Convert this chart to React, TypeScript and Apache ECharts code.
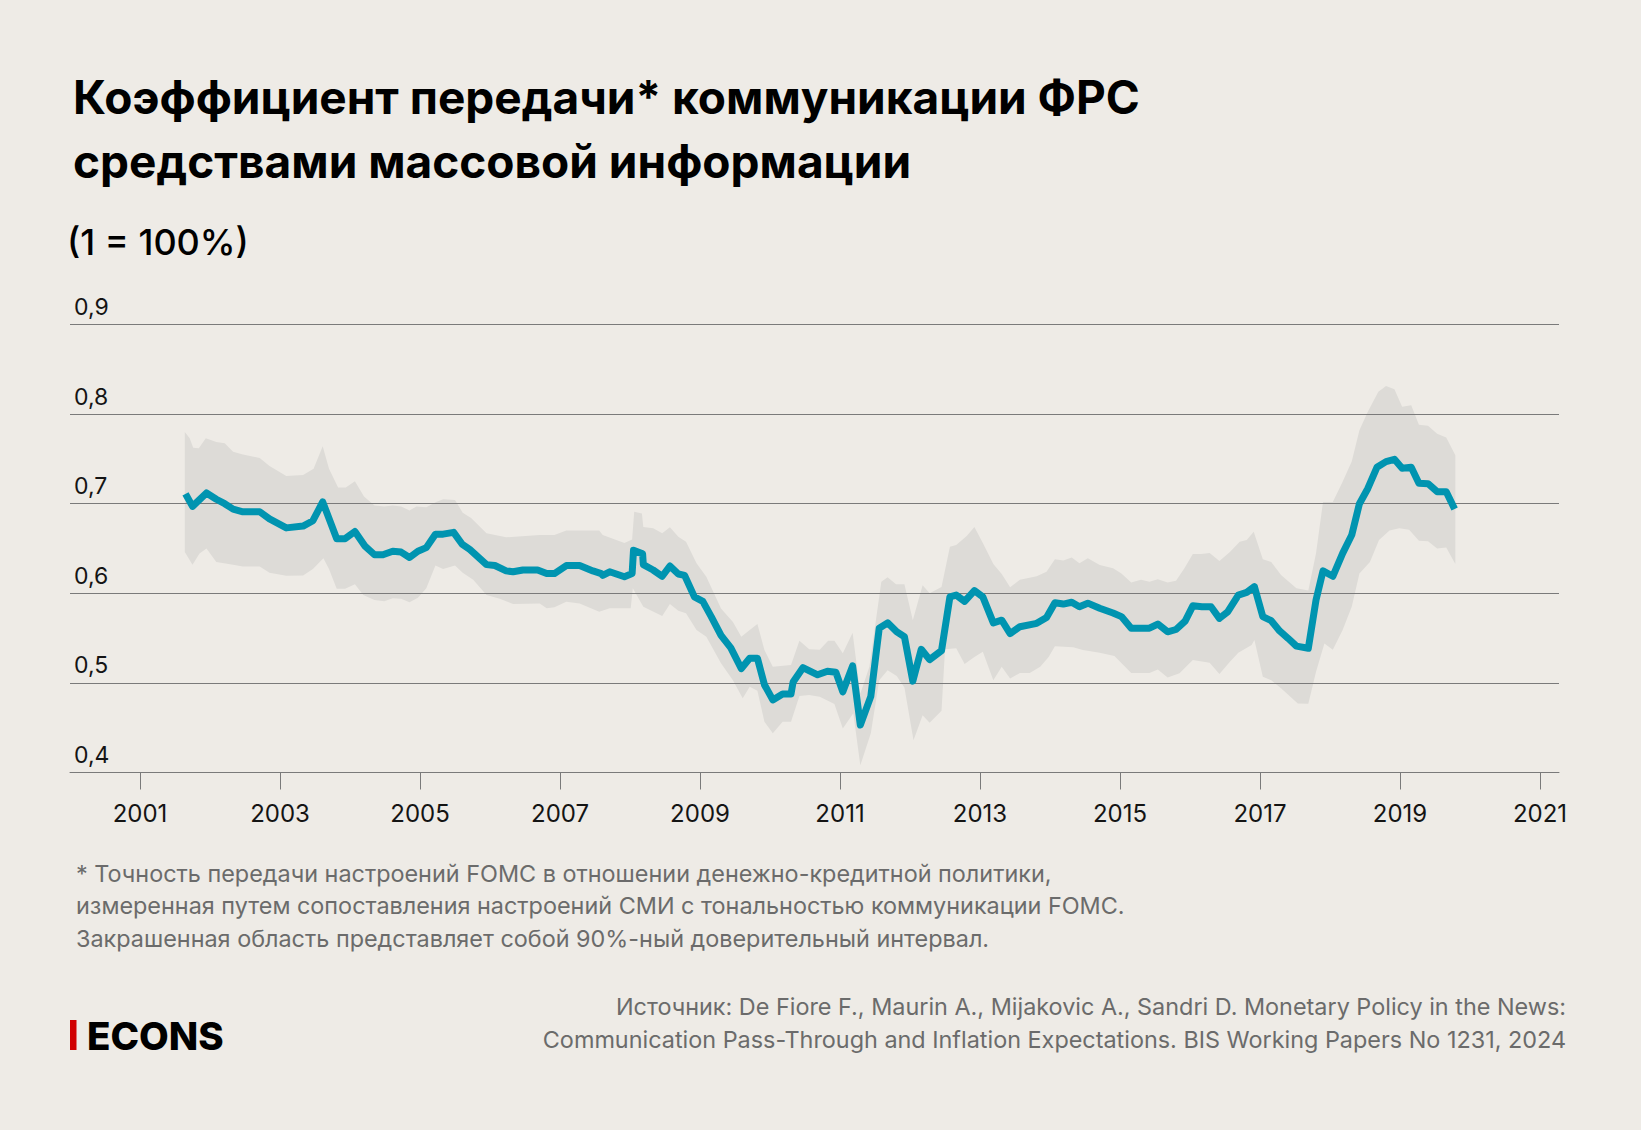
import React, { useEffect, useRef } from "react";
import * as echarts from "echarts";

// ---- Data ----
const lineYears = [
  2001.65, 2001.75, 2001.95, 2002.09, 2002.21, 2002.33, 2002.47, 2002.71, 2002.85, 2003.09,
  2003.33, 2003.47, 2003.61, 2003.81, 2003.93, 2004.07, 2004.21, 2004.35, 2004.47, 2004.61,
  2004.73, 2004.85, 2004.97, 2005.09, 2005.22, 2005.33, 2005.48, 2005.6, 2005.71, 2005.95,
  2006.07, 2006.23, 2006.33, 2006.47, 2006.68, 2006.81, 2006.92, 2007.09, 2007.28, 2007.47,
  2007.59, 2007.61, 2007.71, 2007.92, 2008.03, 2008.05, 2008.18, 2008.19, 2008.33, 2008.46,
  2008.57, 2008.69, 2008.78, 2008.92, 2009.04, 2009.16, 2009.3, 2009.44, 2009.59, 2009.71,
  2009.82, 2009.92, 2010.04, 2010.18, 2010.3, 2010.33, 2010.47, 2010.68, 2010.82, 2010.94,
  2011.04, 2011.18, 2011.29, 2011.44, 2011.56, 2011.68, 2011.81, 2011.92, 2012.04, 2012.16,
  2012.28, 2012.45, 2012.57, 2012.66, 2012.78, 2012.92, 2013.04, 2013.19, 2013.31, 2013.43,
  2013.57, 2013.81, 2013.95, 2014.07, 2014.19, 2014.31, 2014.42, 2014.54, 2014.71, 2014.9,
  2015.02, 2015.16, 2015.3, 2015.42, 2015.54, 2015.68, 2015.8, 2015.93, 2016.04, 2016.17,
  2016.3, 2016.42, 2016.54, 2016.69, 2016.81, 2016.92, 2017.04, 2017.16, 2017.28, 2017.4,
  2017.52, 2017.69, 2017.8, 2017.9, 2018.04, 2018.18, 2018.31, 2018.42, 2018.54, 2018.67,
  2018.8, 2018.92, 2019.03, 2019.16, 2019.27, 2019.4, 2019.53, 2019.66, 2019.78,
];
const lineValues = [
  0.711, 0.697, 0.712, 0.705, 0.7, 0.694, 0.691, 0.691, 0.683, 0.673,
  0.675, 0.681, 0.702, 0.661, 0.661, 0.669, 0.653, 0.643, 0.643, 0.647,
  0.646, 0.64, 0.647, 0.651, 0.666, 0.666, 0.668, 0.655, 0.649, 0.632,
  0.631, 0.625, 0.624, 0.626, 0.626, 0.622, 0.622, 0.631, 0.631, 0.625,
  0.622, 0.62, 0.624, 0.6185, 0.622, 0.648, 0.644, 0.632, 0.626, 0.619,
  0.6305, 0.6215, 0.62, 0.596, 0.591, 0.574, 0.553, 0.539, 0.516, 0.5275,
  0.5275, 0.498, 0.481, 0.4876, 0.4876, 0.501, 0.517, 0.509, 0.513, 0.512,
  0.49, 0.519, 0.453, 0.485, 0.561, 0.567, 0.557, 0.5516, 0.502, 0.5375,
  0.526, 0.536, 0.596, 0.598, 0.591, 0.603, 0.596, 0.567, 0.57, 0.555,
  0.5627, 0.5665, 0.573, 0.5895, 0.588, 0.59, 0.585, 0.589, 0.5833, 0.578,
  0.574, 0.561, 0.561, 0.561, 0.5657, 0.557, 0.5596, 0.569, 0.586, 0.585,
  0.585, 0.572, 0.5795, 0.598, 0.601, 0.6074, 0.574, 0.5694, 0.558, 0.5498,
  0.541, 0.5386, 0.5925, 0.625, 0.619, 0.6446, 0.665, 0.7, 0.717, 0.7406,
  0.747, 0.7496, 0.7395, 0.7406, 0.7228, 0.7223, 0.7134, 0.7134, 0.694,
];

const bandUpperYears = [
  2001.64, 2001.71, 2001.76, 2001.84, 2001.94, 2002.09, 2002.21, 2002.33, 2002.47, 2002.71,
  2002.85, 2003.09, 2003.33, 2003.48, 2003.61, 2003.7, 2003.83, 2003.94, 2004.07, 2004.2,
  2004.35, 2004.49, 2004.61, 2004.73, 2004.85, 2004.95, 2005.09, 2005.23, 2005.33, 2005.5,
  2005.61, 2005.73, 2005.95, 2006.23, 2006.71, 2006.92, 2007.09, 2007.56, 2007.61, 2007.92,
  2008.03, 2008.06, 2008.17, 2008.19, 2008.33, 2008.46, 2008.57, 2008.69, 2008.8, 2008.95,
  2009.09, 2009.3, 2009.47, 2009.59, 2009.71, 2009.82, 2009.92, 2010.04, 2010.3, 2010.42,
  2010.56, 2010.71, 2010.83, 2010.92, 2011.04, 2011.18, 2011.29, 2011.42, 2011.59, 2011.68,
  2011.8, 2011.92, 2012.04, 2012.18, 2012.28, 2012.45, 2012.57, 2012.66, 2012.81, 2012.92,
  2013.04, 2013.19, 2013.31, 2013.43, 2013.57, 2013.81, 2013.95, 2014.07, 2014.19, 2014.31,
  2014.42, 2014.54, 2014.71, 2014.9, 2015.02, 2015.16, 2015.3, 2015.42, 2015.54, 2015.68,
  2015.8, 2015.92, 2016.04, 2016.16, 2016.28, 2016.42, 2016.57, 2016.71, 2016.81, 2016.91,
  2017.04, 2017.16, 2017.3, 2017.52, 2017.69, 2017.8, 2017.9, 2018.04, 2018.18, 2018.31,
  2018.42, 2018.54, 2018.69, 2018.8, 2018.92, 2019.03, 2019.16, 2019.27, 2019.4, 2019.53,
  2019.66, 2019.79,
];
const bandUpperValues = [
  0.78, 0.773, 0.7625, 0.762, 0.773, 0.769, 0.7675, 0.758, 0.755, 0.751,
  0.742, 0.731, 0.732, 0.739, 0.764, 0.739, 0.718, 0.718, 0.725, 0.708,
  0.698, 0.697, 0.698, 0.697, 0.6925, 0.697, 0.696, 0.702, 0.705, 0.704,
  0.69, 0.684, 0.667, 0.6625, 0.665, 0.665, 0.67, 0.67, 0.665, 0.656,
  0.66, 0.691, 0.689, 0.674, 0.6725, 0.667, 0.6736, 0.663, 0.6576, 0.6335,
  0.6185, 0.583, 0.568, 0.5516, 0.559, 0.5657, 0.5367, 0.518, 0.52, 0.547,
  0.5375, 0.537, 0.547, 0.547, 0.533, 0.556, 0.488, 0.518, 0.613, 0.618,
  0.61, 0.61, 0.57, 0.609, 0.6, 0.607, 0.652, 0.654, 0.664, 0.674,
  0.656, 0.6327, 0.6215, 0.6067, 0.615, 0.619, 0.624, 0.638, 0.6366, 0.64,
  0.6335, 0.639, 0.6316, 0.628, 0.622, 0.612, 0.615, 0.613, 0.6157, 0.612,
  0.614, 0.628, 0.644, 0.644, 0.645, 0.636, 0.646, 0.6576, 0.6595, 0.6688,
  0.638, 0.635, 0.6204, 0.6056, 0.603, 0.6446, 0.702, 0.702, 0.7246, 0.747,
  0.782, 0.8027, 0.825, 0.8314, 0.8277, 0.8083, 0.81, 0.788, 0.787, 0.778,
  0.774, 0.754,
];

const bandLowerYears = [
  2001.64, 2001.75, 2001.85, 2001.95, 2002.09, 2002.33, 2002.47, 2002.71, 2002.85, 2003.09,
  2003.33, 2003.47, 2003.62, 2003.7, 2003.81, 2003.93, 2004.07, 2004.19, 2004.35, 2004.49,
  2004.61, 2004.73, 2004.85, 2004.97, 2005.09, 2005.22, 2005.33, 2005.5, 2005.61, 2005.76,
  2005.95, 2006.14, 2006.33, 2006.71, 2006.81, 2006.92, 2007.09, 2007.28, 2007.56, 2007.71,
  2008.01, 2008.04, 2008.19, 2008.46, 2008.57, 2008.69, 2008.8, 2008.95, 2009.09, 2009.3,
  2009.47, 2009.61, 2009.71, 2009.82, 2009.92, 2010.04, 2010.18, 2010.3, 2010.42, 2010.56,
  2010.71, 2010.92, 2011.04, 2011.19, 2011.29, 2011.44, 2011.56, 2011.68, 2011.81, 2011.92,
  2012.05, 2012.18, 2012.28, 2012.45, 2012.5, 2012.66, 2012.78, 2012.92, 2013.04, 2013.19,
  2013.31, 2013.43, 2013.57, 2013.71, 2013.86, 2013.98, 2014.07, 2014.33, 2014.47, 2014.71,
  2014.92, 2015.16, 2015.42, 2015.54, 2015.68, 2015.85, 2016.04, 2016.28, 2016.42, 2016.57,
  2016.69, 2016.88, 2016.92, 2017.04, 2017.16, 2017.3, 2017.54, 2017.69, 2017.8, 2017.92,
  2018.04, 2018.18, 2018.31, 2018.42, 2018.57, 2018.7, 2018.85, 2018.99, 2019.13, 2019.27,
  2019.4, 2019.53, 2019.66, 2019.79,
];
const bandLowerValues = [
  0.646, 0.632, 0.6445, 0.65, 0.635, 0.632, 0.63, 0.63, 0.623, 0.6195,
  0.62, 0.627, 0.639, 0.627, 0.605, 0.605, 0.61, 0.598, 0.5926, 0.591,
  0.5945, 0.594, 0.59, 0.595, 0.6055, 0.631, 0.627, 0.631, 0.623, 0.615,
  0.598, 0.594, 0.588, 0.5886, 0.5833, 0.5844, 0.5907, 0.5886, 0.5795, 0.5833,
  0.5833, 0.6056, 0.585, 0.5747, 0.588, 0.5806, 0.5777, 0.559, 0.5516, 0.5219,
  0.503, 0.4828, 0.4958, 0.4913, 0.4567, 0.4437, 0.4567, 0.4567, 0.4854, 0.4865,
  0.4846, 0.4764, 0.449, 0.466, 0.408, 0.4437, 0.503, 0.514, 0.5077, 0.495,
  0.436, 0.464, 0.4556, 0.469, 0.5375, 0.5386, 0.521, 0.529, 0.5348, 0.503,
  0.518, 0.505, 0.511, 0.511, 0.518, 0.529, 0.541, 0.5397, 0.5367, 0.5337,
  0.53, 0.511, 0.511, 0.515, 0.506, 0.5107, 0.5256, 0.5226, 0.51, 0.5237,
  0.5337, 0.5423, 0.548, 0.507, 0.503, 0.494, 0.477, 0.4766, 0.5125, 0.544,
  0.537, 0.559, 0.585, 0.622, 0.635, 0.6595, 0.67, 0.6725, 0.671, 0.6587,
  0.658, 0.65, 0.651, 0.6327,
];

const tickYears = [2001, 2003, 2005, 2007, 2009, 2011, 2013, 2015, 2017, 2019, 2021];
const yTicks = [0.4, 0.5, 0.6, 0.7, 0.8, 0.9];

const titleLines = [
  "Коэффициент передачи* коммуникации ФРС",
  "средствами массовой информации",
];
const subtitle = "(1 = 100%)";
const footnoteLines = [
  "* Точность передачи настроений FOMC в отношении денежно-кредитной политики,",
  "измеренная путем сопоставления настроений СМИ с тональностью коммуникации FOMC.",
  "Закрашенная область представляет собой 90%-ный доверительный интервал.",
];
const sourceLines = [
  "Источник: De Fiore F., Maurin A., Mijakovic A., Sandri D. Monetary Policy in the News:",
  "Communication Pass-Through and Inflation Expectations. BIS Working Papers No 1231, 2024",
];

const BG = "#EEEBE6";
const LINE = "#0094B0";
const BAND = "#DDDBD7";
const GRID = "#7A7A7A";
const FONT = "Inter, 'Noto Sans', sans-serif";

export default function App() {
  const ref = useRef<HTMLDivElement>(null);

  useEffect(() => {
    if (!ref.current) return;
    const chart = echarts.init(ref.current, null, { renderer: "svg" });

    const linePts = lineYears.map((y, i) => [y, lineValues[i]]);

    const text = (t: string, x: number, y: number, size: number, weight: any, fill: string, align = "left") => ({
      type: "text",
      x,
      y,
      silent: true,
      style: {
        text: t,
        fontSize: size,
        fontWeight: weight,
        fontFamily: FONT,
        fill,
        align,
        verticalAlign: "middle",
      },
    });

    const option: any = {
      animation: false,
      backgroundColor: BG,
      grid: { left: 70, top: 324.5, width: 1489, height: 448, containLabel: false },
      xAxis: {
        type: "value",
        min: 2000,
        max: 2021.271,
        z: 2,
        axisLine: { show: true, lineStyle: { color: GRID, width: 1 } },
        axisTick: {
          show: true,
          customValues: tickYears,
          length: 17,
          lineStyle: { color: GRID, width: 1 },
        },
        axisLabel: {
          customValues: tickYears,
          formatter: (v: number) => String(Math.round(v)),
          fontSize: 24,
          fontFamily: FONT,
          color: "#141414",
          margin: 29,
        },
        splitLine: { show: false },
      },
      yAxis: {
        type: "value",
        min: 0.4,
        max: 0.9,
        interval: 0.1,
        z: 2,
        axisLine: { show: false },
        axisTick: { show: false },
        axisLabel: {
          inside: true,
          margin: 4,
          fontSize: 23,
          fontFamily: FONT,
          color: "#141414",
          verticalAlign: "bottom",
          padding: [0, 0, 6, 0],
          formatter: (v: number) => {
            const r = yTicks.find((t) => Math.abs(t - v) < 1e-6);
            return r === undefined ? "" : r.toFixed(1).replace(".", ",");
          },
        },
        splitLine: { show: true, lineStyle: { color: GRID, width: 1 } },
      },
      series: [
        {
          type: "custom",
          z: 1,
          silent: true,
          data: [[2010, 0.6]],
          renderItem: (_params: any, api: any) => {
            const pts: number[][] = [];
            for (let i = 0; i < bandUpperYears.length; i++) {
              pts.push(api.coord([bandUpperYears[i], bandUpperValues[i]]));
            }
            for (let i = bandLowerYears.length - 1; i >= 0; i--) {
              pts.push(api.coord([bandLowerYears[i], bandLowerValues[i]]));
            }
            return { type: "polygon", shape: { points: pts }, style: { fill: BAND } };
          },
        },
        {
          type: "line",
          z: 3,
          data: linePts,
          symbol: "none",
          silent: true,
          lineStyle: { color: LINE, width: 7, join: "round", cap: "butt" },
        },
      ],
      graphic: [
        text(titleLines[0], 73, 96.9, 46, 700, "#000"),
        text(titleLines[1], 73, 160.5, 46, 700, "#000"),
        text(subtitle, 67, 242, 36, 500, "#000"),
        text(footnoteLines[0], 76, 873, 23.4, 400, "#6B6B6B"),
        text(footnoteLines[1], 76, 905.5, 23.4, 400, "#6B6B6B"),
        text(footnoteLines[2], 76, 938, 23.4, 400, "#6B6B6B"),
        text(sourceLines[0], 1566, 1006.5, 23.4, 400, "#6B6B6B", "right"),
        text(sourceLines[1], 1566, 1039, 23.4, 400, "#6B6B6B", "right"),
        {
          type: "rect",
          silent: true,
          shape: { x: 70, y: 1020, width: 6.5, height: 30 },
          style: { fill: "#D00000" },
        },
        text("ECONS", 87, 1035.5, 38.5, 800, "#000"),
      ],
    };

    chart.setOption(option);
    return () => chart.dispose();
  }, []);

  return (
    <div
      ref={ref}
      style={{ position: "absolute", left: 0, top: 0, width: 1641, height: 1130, background: BG }}
    />
  );
}
